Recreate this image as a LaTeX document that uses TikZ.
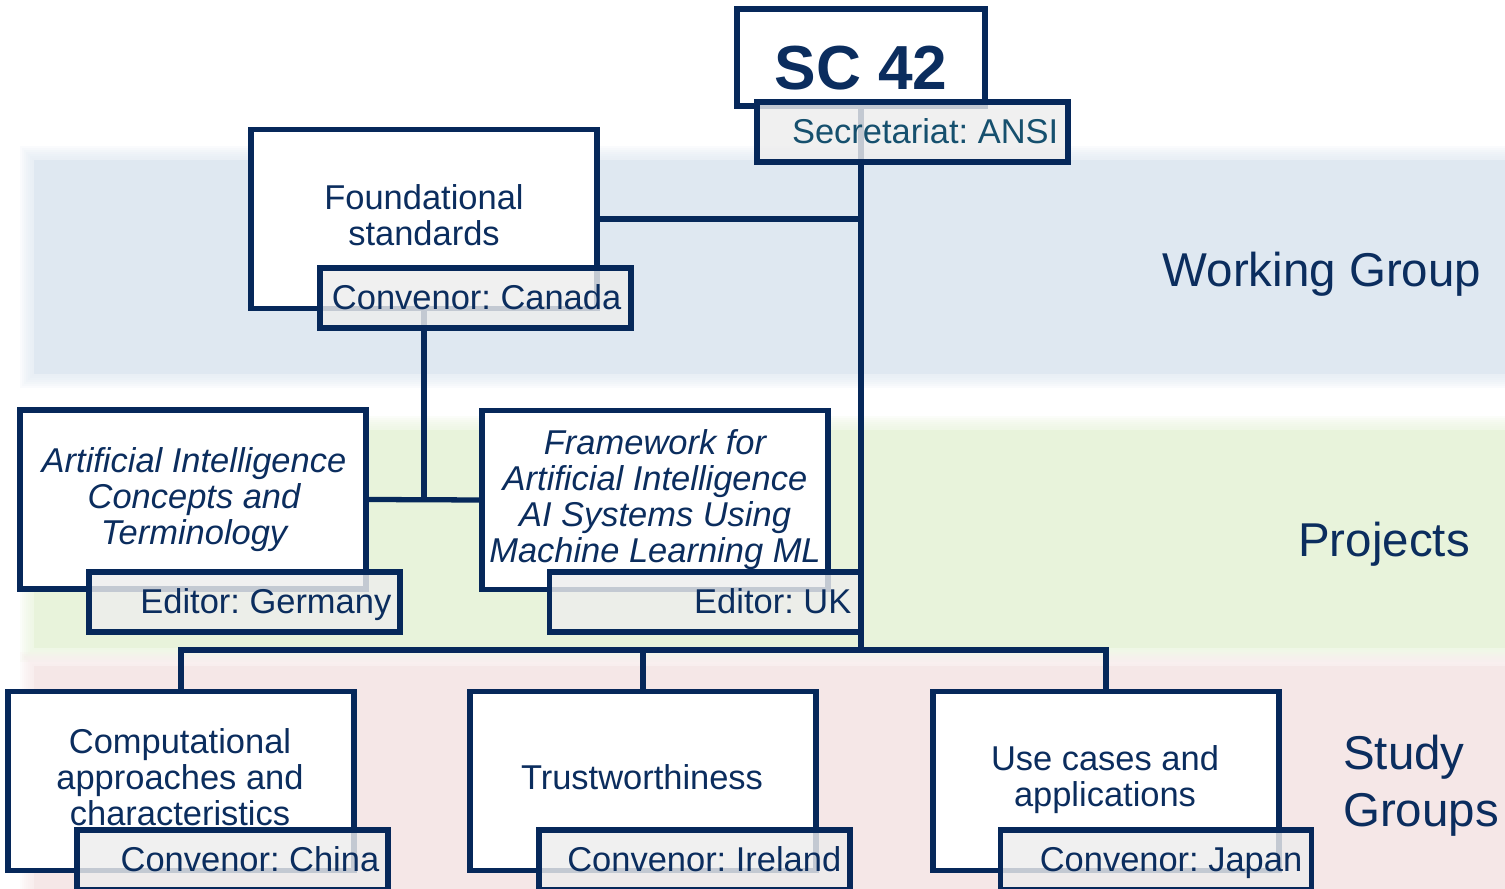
\documentclass[tikz,border=0pt]{standalone}
\usepackage{fontspec}
\setmainfont{Liberation Sans}
\frenchspacing
\definecolor{navy}{HTML}{06285A}
\definecolor{txt}{HTML}{0B2D5E}
\definecolor{sect}{HTML}{16506E}
\definecolor{bandA}{HTML}{DFE8F1}
\definecolor{bandB}{HTML}{E8F3DB}
\definecolor{bandC}{HTML}{F5E7E7}
\definecolor{lblfill}{HTML}{EDEDED}
\begin{document}
\begin{tikzpicture}[x=0.01cm,y=-0.01cm,
  box/.style={draw=navy, line width=1.5pt, fill=white, inner sep=0pt},
  lbl/.style={draw=navy, line width=1.5pt, fill=lblfill, fill opacity=0.82, inner sep=0pt,
              minimum width=3.11cm, minimum height=0.6cm},
  wide/.style={minimum width=3.46cm, minimum height=1.79cm},
  conn/.style={draw=navy, line width=1.5pt},
  btxt/.style={text=txt, font=\fontsize{9.8}{10.25}\selectfont, align=center, inner sep=0pt},
  ltxt/.style={text=txt, font=\fontsize{9.8}{10.25}\selectfont, inner sep=0pt, anchor=base east},
  band/.style={text=txt, font=\fontsize{13.5}{16.2}\selectfont, inner sep=0pt}]
\useasboundingbox (0,0) rectangle (1505,889);
% bands with soft edges
\foreach \c/\ya/\yb in {bandA/146/388, bandB/416/662, bandC/652/930}{
  \foreach \i in {0,2,...,12}{
    \fill[\c, opacity=0.16] (20+\i,\ya+\i) rectangle (1530,\yb-\i);
  }
  \fill[\c] (34,\ya+14) rectangle (1530,\yb-14);
}
% boxes
\node[box, minimum width=2.48cm, minimum height=0.97cm] (sc) at (861,57.5) {};
\node[box, wide] (fs) at (424,219) {};
\node[box, wide] (ai) at (193,499.5) {};
\node[box, wide] (fw) at (655,500) {};
\node[box, wide] (sg1) at (181,781) {};
\node[box, wide] (sg2) at (643,781) {};
\node[box, wide] (sg3) at (1106,781) {};
\coordinate (hub) at (861,650);
% connectors
\draw[conn] (sc.south) -- (hub);
\draw[conn] (fs.east) -- (fs.east -| hub);
\draw[conn] (fs.south) -- (fs.south |- ai.east);
\draw[conn] (ai.east) -- (fw.west);
\draw[conn] (sg1.north) -- (sg1.north |- hub) -- (sg3.north |- hub) -- (sg3.north);
\draw[conn] (sg2.north) -- (sg2.north |- hub);
% label boxes
\node[lbl] (sec) at (912.5,132) {};
\node[lbl] (can) at (475.5,298) {};
\node[lbl] (ger) at (244.5,602) {};
\node[lbl] (uk) at (705,602) {};
\node[lbl] (chi) at (232.5,860) {};
\node[lbl] (ire) at (694.5,860) {};
\node[lbl] (jap) at (1156,860) {};
% texts
\node[text=txt, font=\fontsize{17.7}{20}\selectfont\bfseries, inner sep=0pt, anchor=base] (sct) at (861,90) {SC 42};
\node[ltxt, text=sect] (sect) at (1059,144) {Secretariat: ANSI};
\node[btxt] (fst) at (424,215) {Foundational\\standards};
\node[ltxt] (cant) at (622,310) {Convenor: Canada};
\node[btxt, font=\fontsize{9.8}{10.25}\selectfont\itshape] (ait) at (194,500) {Artificial Intelligence\\Concepts and\\Terminology};
\node[ltxt] (gert) at (392,614) {Editor: Germany};
\node[btxt, font=\fontsize{9.8}{10.25}\selectfont\itshape] (fwt) at (655,499.5) {Framework for\\Artificial Intelligence\\AI Systems Using\\Machine Learning ML};
\node[ltxt] (ukt) at (852,614) {Editor: UK};
\node[btxt] (sg1t) at (180,777) {Computational\\approaches and\\characteristics};
\node[ltxt] (chit) at (380,872) {Convenor: China};
\node[btxt] (sg2t) at (642,777) {Trustworthiness};
\node[ltxt] (iret) at (842,872) {Convenor: Ireland};
\node[btxt] (sg3t) at (1105,780) {Use cases and\\applications};
\node[ltxt] (japt) at (1303,872) {Convenor: Japan};
\node[band, anchor=base] (wg) at (1322,287) {Working Group};
\node[band, anchor=base] (pr) at (1384,557) {Projects};
\node[band, align=left] (sg) at (1421,786) {Study\\Groups};
\end{tikzpicture}
\end{document}
